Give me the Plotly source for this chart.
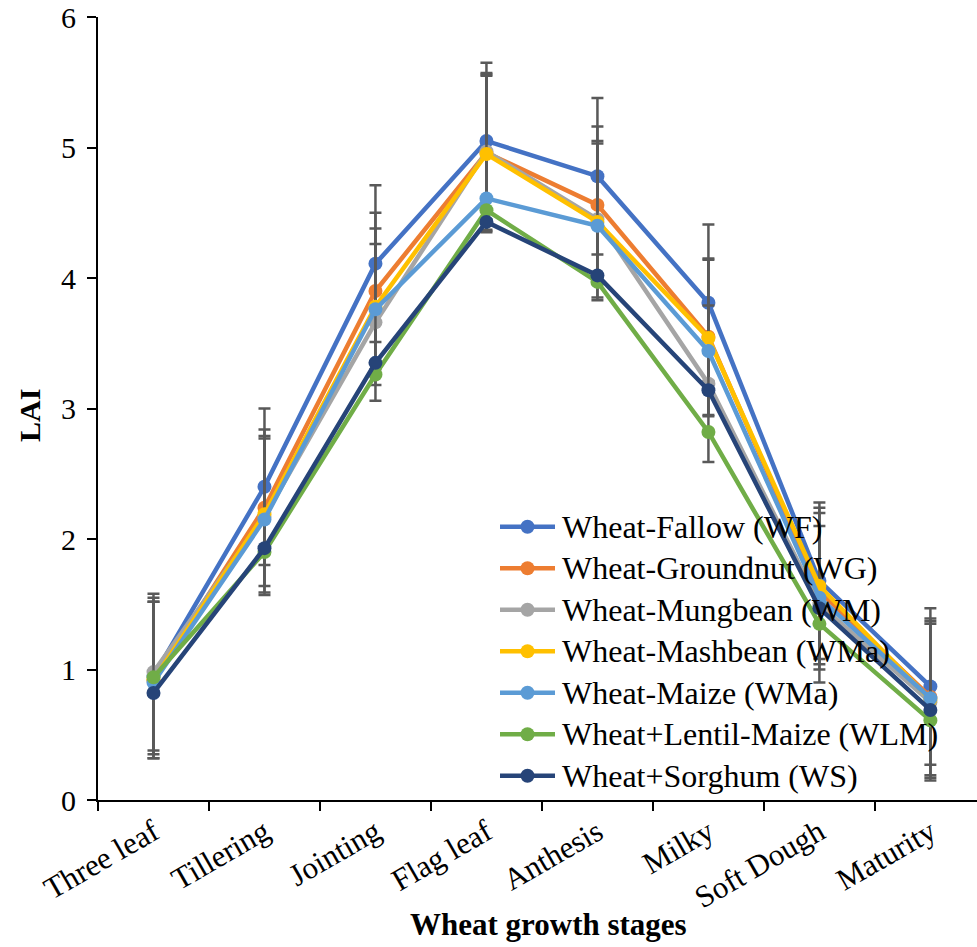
import plotly.graph_objects as go

# Wheat growth stages (x categories)
stages = ["Three leaf", "Tillering", "Jointing", "Flag leaf",
          "Anthesis", "Milky", "Soft Dough", "Maturity"]

# Leaf area index per cropping system
lai_wf = [0.95, 2.40, 4.11, 5.05, 4.78, 3.81, 1.68, 0.87]
lai_wg = [0.92, 2.24, 3.90, 4.96, 4.56, 3.55, 1.60, 0.79]
lai_wm = [0.98, 2.17, 3.66, 4.97, 4.45, 3.19, 1.50, 0.75]
lai_wma = [0.92, 2.19, 3.78, 4.95, 4.43, 3.54, 1.64, 0.77]
lai_wmz = [0.90, 2.15, 3.76, 4.61, 4.40, 3.44, 1.55, 0.78]
lai_wlm = [0.94, 1.90, 3.26, 4.52, 3.97, 2.82, 1.35, 0.61]
lai_ws = [0.82, 1.93, 3.35, 4.43, 4.02, 3.14, 1.47, 0.69]

# Standard error shown on the first four systems
se = [0.60, 0.60, 0.60, 0.60, 0.60, 0.60, 0.60, 0.60]

series = [
    ("Wheat-Fallow (WF)", lai_wf, "#4472C4", se),
    ("Wheat-Groundnut (WG)", lai_wg, "#ED7D31", se),
    ("Wheat-Mungbean (WM)", lai_wm, "#A5A5A5", se),
    ("Wheat-Mashbean (WMa)", lai_wma, "#FFC000", se),
    ("Wheat-Maize (WMa)", lai_wmz, "#5B9BD5", None),
    ("Wheat+Lentil-Maize (WLM)", lai_wlm, "#70AD47", None),
    ("Wheat+Sorghum (WS)", lai_ws, "#264478", None),
]

FONT = "Liberation Serif, Times New Roman, serif"

W, H = 977, 947
M_L, M_R, M_T, M_B = 98, 0, 17, 147
PW, PH = W - M_L - M_R, H - M_T - M_B


def px_to_paper(px, py):
    return (px - M_L) / PW, (H - M_B - py) / PH


fig = go.Figure()
for name, vals, color, err in series:
    tr = dict(
        x=stages, y=vals, name=name, mode="lines+markers",
        line=dict(color=color, width=4.5),
        marker=dict(color=color, size=14),
        showlegend=False,
    )
    if err is not None:
        tr["error_y"] = dict(type="data", array=err, visible=True,
                             color="#595959", thickness=2.5, width=6)
    fig.add_trace(go.Scatter(**tr))

# Legend block inside the plot: line + dot + label per series
shapes, annotations = [], []
LEG_X0, LEG_X1, LEG_TEXT_X = 500, 555, 560
LEG_Y0, LEG_STEP, DOT_R = 526.7, 41.5, 7
for i, (name, vals, color, err) in enumerate(series):
    py = LEG_Y0 + i * LEG_STEP
    x0, y = px_to_paper(LEG_X0, py)
    x1, _ = px_to_paper(LEG_X1, py)
    xc, _ = px_to_paper((LEG_X0 + LEG_X1) / 2, py)
    shapes.append(dict(type="line", xref="paper", yref="paper",
                       x0=x0, x1=x1, y0=y, y1=y,
                       line=dict(color=color, width=4.5)))
    shapes.append(dict(type="circle", xref="paper", yref="paper",
                       x0=xc - DOT_R / PW, x1=xc + DOT_R / PW,
                       y0=y - DOT_R / PH, y1=y + DOT_R / PH,
                       fillcolor=color, line=dict(width=0)))
    tx, _ = px_to_paper(LEG_TEXT_X, py)
    annotations.append(dict(text=name, xref="paper", yref="paper",
                            x=tx, y=y, xanchor="left", yanchor="middle",
                            showarrow=False,
                            font=dict(family=FONT, size=32, color="black")))

annotations += [
    dict(text="<b>Wheat growth stages</b>", xref="paper", yref="paper",
         x=0.512, y=-0.1596, xanchor="center", yanchor="middle",
         showarrow=False, font=dict(family=FONT, size=31, color="black")),
    dict(text="<b>LAI</b>", xref="paper", yref="paper",
         x=-0.0774, y=0.4917, xanchor="center", yanchor="middle",
         textangle=-90, showarrow=False,
         font=dict(family=FONT, size=30, color="black")),
]

fig.update_layout(
    width=W, height=H,
    margin=dict(l=M_L, r=M_R, t=M_T, b=M_B),
    paper_bgcolor="white", plot_bgcolor="white",
    font=dict(family=FONT, color="black", size=30),
    showlegend=False,
    xaxis=dict(
        type="category", range=[-0.5, 7.42],
        tickson="boundaries", ticks="outside", ticklen=9, tickwidth=1.5,
        tickcolor="black", showline=True, linecolor="black", linewidth=2,
        showgrid=False, zeroline=False, tickangle=-30,
        tickfont=dict(family=FONT, size=31, color="black"),
    ),
    yaxis=dict(
        range=[0, 6], dtick=1, ticks="outside", ticklen=9, tickwidth=1.5,
        tickcolor="black", showline=True, linecolor="black", linewidth=2,
        showgrid=False, zeroline=False, ticklabelstandoff=5,
        tickfont=dict(family=FONT, size=30, color="black"),
    ),
    shapes=shapes,
    annotations=annotations,
)

fig.write_html("out.html")
